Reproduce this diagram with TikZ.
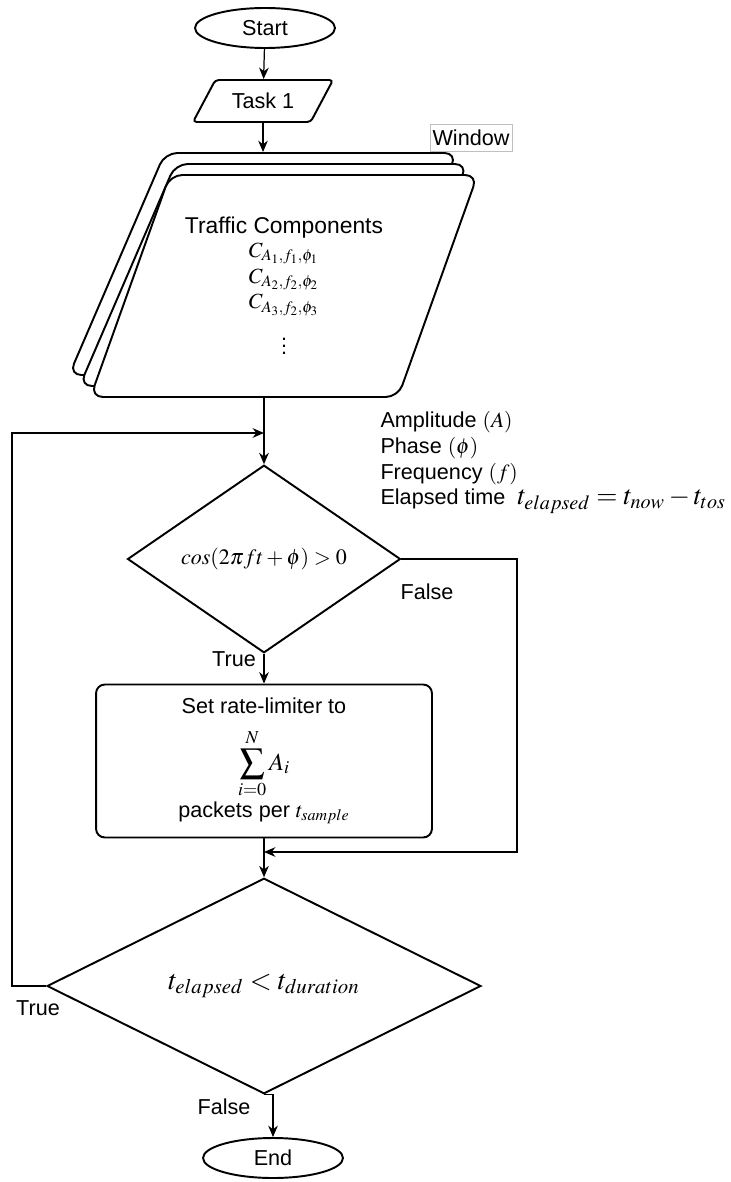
\documentclass[tikz,border=0pt]{standalone}
\usepackage{mathptmx}
\usepackage[no-math]{fontspec}
\setmainfont{Liberation Sans}
\usetikzlibrary{arrows.meta,shapes.geometric}

\begin{document}
\begin{tikzpicture}[x=0.02cm,y=-0.02cm,>={Stealth[length=6.5pt,width=5.5pt]},semithick,font=\fontsize{12.3}{14.6}\selectfont]
  \tikzstyle{terminal}=[ellipse,draw,line width=1.1pt,minimum width=2.8cm,minimum height=0.8cm,inner sep=0pt]
  \tikzstyle{io}=[trapezium,draw,line width=1.1pt,trapezium stretches body,rounded corners=2pt,
    trapezium left angle=51,trapezium right angle=129,minimum width=2.8cm,minimum height=0.84cm]
  \tikzstyle{window}=[trapezium,draw,fill=white,line width=1.1pt,trapezium stretches,rounded corners=7pt,
    trapezium left angle=64,trapezium right angle=116,minimum width=7.76cm,minimum height=4.44cm,align=center]
  \tikzstyle{decision}=[diamond,draw,line width=1.1pt,inner sep=0pt]
  \tikzstyle{process}=[rectangle,draw,line width=1.1pt,rounded corners=5pt,align=center,
    minimum width=6.72cm,minimum height=3.06cm]
  \tikzstyle{flow}=[->,line width=0.7pt]

  \useasboundingbox (0,0) rectangle (730,1182);

  \node[terminal] (start) at (265,28) {Start};
  \node[io]       (task)  at (263,101) {Task 1};

  % stacked window of components
  \node[window] (win3) at (263,264) {};
  \node[window] (win2) at (273.5,275) {};
  \node[window] (comps) at (284,286) {{\fontsize{13}{15}\selectfont Traffic Components}\\[-1pt]
    $C_{A_1,f_1,\phi_1}$\\ $C_{A_2,f_2,\phi_2}$\\ $C_{A_3,f_2,\phi_3}$\\[6pt] $\vdots$};
  \node[draw=black!25,line width=0.4pt,inner xsep=1.5pt,inner ysep=3pt] (winlabel) at (471,138) {Window};

  \node[anchor=north west,align=left,inner sep=0pt] (params) at (380,411)
    {Amplitude $(A)$\\ Phase $(\phi)$\\ Frequency $(f)$\\
     Elapsed time\ \ {\fontsize{15.5}{16}\selectfont$t_{elapsed} = t_{now} - t_{tos}$}};

  \node[decision,minimum width=5.46cm,minimum height=3.46cm] (check) at (264,559)
    {\fontsize{12.5}{14}\selectfont$cos(2\pi f t + \phi) > 0$};
  \node[process] (rate) at (264,761)
    {Set rate-limiter to\\[8pt] {\fontsize{14}{16}\selectfont$\displaystyle\sum_{i=0}^{N} A_i$}\\[1pt] packets per $t_{sample}$};
  \node[decision,minimum width=8.68cm,minimum height=4.18cm] (loop) at (264,986)
    {\fontsize{16}{18}\selectfont$t_{elapsed} < t_{duration}$};
  \node[terminal] (end) at (273,1158) {End};

  \coordinate (loopin) at (264,433);
  \coordinate (loopleft) at (12,986);
  \coordinate (falseturn) at (517,852);
  \coordinate (merge) at (264,852);

  \node (true1)  at (234,659)  {True};
  \node (false1) at (427,592)  {False};
  \node (true2)  at (38,1008)  {True};
  \node (false2) at (224,1107) {False};

  \draw[flow] (start) -- (task);
  \draw[flow] (task.south) -- (task.south |- win3.north);
  \draw[flow] (check.north |- comps.south) -- (check.north);
  \draw[flow] (check) -- (rate);
  \draw[flow] (check.east) -| (falseturn) -- (merge);
  \draw[flow] (rate) -- (loop);
  \draw[flow] (loop.west) -- (loopleft) |- (loopin);
  \draw[flow] (loop.south) -| (end.north);
\end{tikzpicture}
\end{document}
